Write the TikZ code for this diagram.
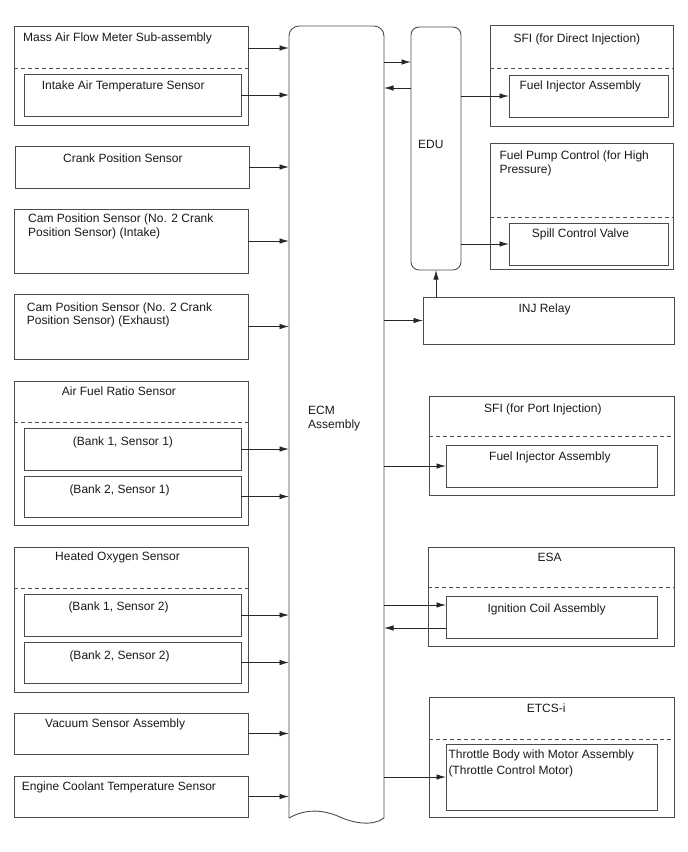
\documentclass[tikz,border=0pt]{standalone}
\usepackage{fontspec}
\setmainfont{Liberation Sans}
\usetikzlibrary{arrows.meta}

\tikzset{
	box/.style={draw=black!70, line width=0.9pt, anchor=north west, inner sep=0pt, outer sep=0pt},
	dashline/.style={draw=black!70, line width=0.9pt, dash pattern=on 4pt off 3pt},
	arr/.style={draw=black!85, line width=0.9pt, -{Latex[length=9.5pt,width=5.5pt]}},
	lbl/.style={anchor=north west, inner sep=0pt, align=left, font=\fontsize{12pt}{13.5pt}\selectfont, text=black!90},
}

\begin{document}
\begin{tikzpicture}[x=1pt, y=-1pt]
		\useasboundingbox (0,0) rectangle (688,852);
		
		% ECM
		\node[minimum width=95, minimum height=792, anchor=north west, inner sep=0pt, outer sep=0pt] (ecm) at (289,26) {};
		\draw[draw=black!70, line width=0.9pt, rounded corners=10] (ecm.south west) -- (ecm.north west) -- (ecm.north east) -- (ecm.south east);
		\draw[draw=black!70, line width=0.9pt] (ecm.south west) .. controls (305,809) and (322,809) .. (340,817) .. controls (352,822.5) and (372,827) .. (ecm.south east);
		\node[lbl] (ecmt) at ([shift={(19,-16)}]ecm.west) {ECM\\Assembly};
		
		% EDU
		\node[box, rounded corners=8, minimum width=50, minimum height=243] (edu) at (411,27) {};
		\node[lbl] (edut) at ([shift={(7,-8.5)}]edu.west) {EDU};
		
		% sensors
		\node[box, minimum width=234, minimum height=99] (maf) at (14,26) {};
		\draw[dashline] ([yshift=-42]maf.north west) -- ([yshift=-42]maf.north east);
		\node[lbl] (maft) at ([shift={(9,7)}]maf.north west) {Mass Air Flow Meter Sub-assembly};
		\node[box, minimum width=217, minimum height=42] (iat) at (24,74) {};
		\node[lbl] (iatt) at ([shift={(17.7,7)}]iat.north west) {Intake Air Temperature Sensor};
		
		\node[box, minimum width=234, minimum height=42] (crank) at (15,146) {};
		\node[lbl] (crankt) at ([shift={(48,7.3)}]crank.north west) {Crank Position Sensor};
		
		\node[box, minimum width=234, minimum height=64] (camin) at (14,209) {};
		\node[lbl] (camint) at ([shift={(14,5)}]camin.north west) {Cam Position Sensor (No. 2 Crank\\Position Sensor) (Intake)};
		
		\node[box, minimum width=234, minimum height=65] (camex) at (14,294) {};
		\node[lbl] (camext) at ([shift={(12.7,8.4)}]camex.north west) {Cam Position Sensor (No. 2 Crank\\Position Sensor) (Exhaust)};
		
		\node[box, minimum width=234, minimum height=144] (afr) at (14,381) {};
		\draw[dashline] ([yshift=-41]afr.north west) -- ([yshift=-41]afr.north east);
		\node[lbl] (afrt) at ([shift={(47.7,5.7)}]afr.north west) {Air Fuel Ratio Sensor};
		\node[box, minimum width=217, minimum height=42] (afr1) at (24,428) {};
		\node[lbl] (afr1t) at ([shift={(48.7,8.3)}]afr1.north west) {(Bank 1, Sensor 1)};
		\node[box, minimum width=217, minimum height=41] (afr2) at (24,476) {};
		\node[lbl] (afr2t) at ([shift={(45.3,8.6)}]afr2.north west) {(Bank 2, Sensor 1)};
		
		\node[box, minimum width=234, minimum height=145] (ho) at (14,547) {};
		\draw[dashline] ([yshift=-41]ho.north west) -- ([yshift=-41]ho.north east);
		\node[lbl] (hot) at ([shift={(41,5)}]ho.north west) {Heated Oxygen Sensor};
		\node[box, minimum width=217, minimum height=42] (ho1) at (24,594) {};
		\node[lbl] (ho1t) at ([shift={(44.3,7.3)}]ho1.north west) {(Bank 1, Sensor 2)};
		\node[box, minimum width=217, minimum height=41] (ho2) at (24,642) {};
		\node[lbl] (ho2t) at ([shift={(45.3,8.3)}]ho2.north west) {(Bank 2, Sensor 2)};
		
		\node[box, minimum width=234, minimum height=41] (vac) at (14,713) {};
		\node[lbl] (vact) at ([shift={(31,5.7)}]vac.north west) {Vacuum Sensor Assembly};
		
		\node[box, minimum width=234, minimum height=41] (ect) at (14,776) {};
		\node[lbl] (ectt) at ([shift={(7.7,5.7)}]ect.north west) {Engine Coolant Temperature Sensor};
		
		% actuators
		\node[box, minimum width=183, minimum height=101] (sfid) at (490,25) {};
		\draw[dashline] ([yshift=-43]sfid.north west) -- ([yshift=-43]sfid.north east);
		\node[lbl] (sfidt) at ([shift={(23.3,8.3)}]sfid.north west) {SFI (for Direct Injection)};
		\node[box, minimum width=159, minimum height=42] (fiad) at (509,75) {};
		\node[lbl] (fiadt) at ([shift={(10.3,6)}]fiad.north west) {Fuel Injector Assembly};
		
		\node[box, minimum width=183, minimum height=126] (fpc) at (490,143) {};
		\draw[dashline] ([yshift=-74]fpc.north west) -- ([yshift=-74]fpc.north east);
		\node[lbl] (fpct) at ([shift={(9.3,7.7)}]fpc.north west) {Fuel Pump Control (for High\\Pressure)};
		\node[box, minimum width=159, minimum height=42] (scv) at (509,223) {};
		\node[lbl] (scvt) at ([shift={(22.7,5.3)}]scv.north west) {Spill Control Valve};
		
		\node[box, minimum width=251, minimum height=47] (inj) at (423,297) {};
		\node[lbl] (injt) at ([shift={(95.3,6.3)}]inj.north west) {INJ Relay};
		
		\node[box, minimum width=245, minimum height=99] (sfip) at (429,396) {};
		\draw[dashline] ([yshift=-40]sfip.north west) -- ([yshift=-40]sfip.north east);
		\node[lbl] (sfipt) at ([shift={(55,8)}]sfip.north west) {SFI (for Port Injection)};
		\node[box, minimum width=211, minimum height=42] (fiap) at (446,445) {};
		\node[lbl] (fiapt) at ([shift={(43,6.7)}]fiap.north west) {Fuel Injector Assembly};
		
		\node[box, minimum width=246, minimum height=99] (esa) at (428,547) {};
		\draw[dashline] ([yshift=-40]esa.north west) -- ([yshift=-40]esa.north east);
		\node[lbl] (esat) at ([shift={(109.3,5.6)}]esa.north west) {ESA};
		\node[box, minimum width=211, minimum height=42] (ica) at (446,596) {};
		\node[lbl] (icat) at ([shift={(41.3,8)}]ica.north west) {Ignition Coil Assembly};
		
		\node[box, minimum width=245, minimum height=120] (etcs) at (429,697) {};
		\draw[dashline] ([yshift=-42]etcs.north west) -- ([yshift=-42]etcs.north east);
		\node[lbl] (etcst) at ([shift={(97.7,6.3)}]etcs.north west) {ETCS-i};
		\node[box, minimum width=211, minimum height=66] (tb) at (446,744) {};
		\node[lbl] (tbt) at ([shift={(2.3,6)}]tb.north west) {Throttle Body with Motor Assembly\\[2pt](Throttle Control Motor)};
		
		% inputs
		\draw[arr] ([yshift=-22]maf.north east) -- ([yshift=-22]maf.north east -| ecm.west);
		\draw[arr] (iat.east) -- (iat.east -| ecm.west);
		\draw[arr] (crank.east) -- (crank.east -| ecm.west);
		\draw[arr] (camin.east) -- (camin.east -| ecm.west);
		\draw[arr] (camex.east) -- (camex.east -| ecm.west);
		\draw[arr] (afr1.east) -- (afr1.east -| ecm.west);
		\draw[arr] (afr2.east) -- (afr2.east -| ecm.west);
		\draw[arr] (ho1.east) -- (ho1.east -| ecm.west);
		\draw[arr] (ho2.east) -- (ho2.east -| ecm.west);
		\draw[arr] (vac.east) -- (vac.east -| ecm.west);
		\draw[arr] (ect.east) -- (ect.east -| ecm.west);
		
		% outputs
		\draw[arr] ([yshift=-35]edu.north west -| ecm.east) -- ([yshift=-35]edu.north west);
		\draw[arr] ([yshift=-61]edu.north west) -- ([yshift=-61]edu.north west -| ecm.east);
		\draw[arr] (fiad.west -| edu.east) -- (fiad.west);
		\draw[arr] (scv.west -| edu.east) -- (scv.west);
		\draw[arr] (inj.west -| ecm.east) -- (inj.west);
		\draw[arr] ([xshift=13]inj.north west) -- ([xshift=13]inj.north west |- edu.south);
		\draw[arr] (fiap.west -| ecm.east) -- (fiap.west);
		\draw[arr] ([yshift=12]ica.west -| ecm.east) -- ([yshift=12]ica.west);
		\draw[arr] ([yshift=-11]ica.west) -- ([yshift=-11]ica.west -| ecm.east);
		\draw[arr] (tb.west -| ecm.east) -- (tb.west);
	\end{tikzpicture}
\end{document}
